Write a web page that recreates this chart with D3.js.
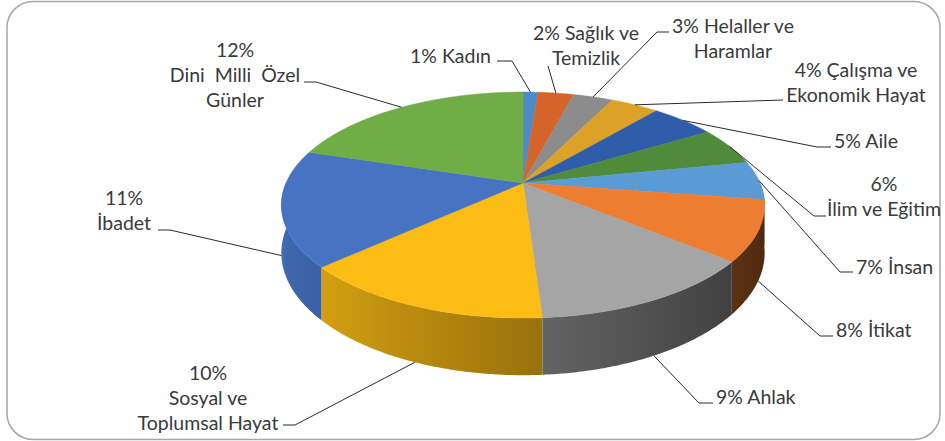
<!DOCTYPE html>
<html>
<head>
<meta charset="utf-8">
<script src="https://cdn.jsdelivr.net/npm/d3@7"></script>
<style>
  body { margin: 0; background: #fff; }
  text { font-family: Lato, "Open Sans", sans-serif; font-size: 19.5px; fill: #3a3a3a; white-space: pre; }
</style>
</head>
<body>
<div id="chart"></div>
<script>
// konu dağılımı - 3d pasta
var categories = ["Kadın", "Sağlık ve Temizlik", "Helaller ve Haramlar", "Çalışma ve Ekonomik Hayat",
  "Aile", "İlim ve Eğitim", "İnsan", "İtikat", "Ahlak", "Sosyal ve Toplumsal Hayat", "İbadet", "Dini Milli Özel Günler"];
var values = [1.2, 2.9, 3.2, 3.9, 5.2, 5.5, 5.5, 8.6, 13.0, 14.3, 16.6, 20.2];
var labelLines = [
  ["1% Kadın"],
  ["2% Sağlık ve", "Temizlik"],
  ["3% Helaller ve", "Haramlar"],
  ["4% Çalışma ve", "Ekonomik Hayat"],
  ["5% Aile"],
  ["6%", "İlim ve Eğitim"],
  ["7% İnsan"],
  ["8% İtikat"],
  ["9% Ahlak"],
  ["10%", "Sosyal ve", "Toplumsal Hayat"],
  ["11%", "İbadet"],
  ["12%", "Dini  Milli  Özel", "Günler"]
];
var colors = ["#4e8ac8", "#d4642a", "#8c8c8c", "#dca228", "#2f5daa", "#4f8b3b",
  "#5b9bd5", "#ed7d31", "#a5a5a5", "#fbbd14", "#4673c2", "#70ad47"];

// label placement (x, y of first line, anchor, leader knee points)
var labelPos = [
  {x: 491, y: 56, a: "end", knee: [[497, 61], [512, 61]]},
  {x: 586, y: 33, a: "middle", knee: [[548, 66]]},
  {x: 733, y: 26, a: "middle", knee: [[669, 32], [657, 32]]},
  {x: 856, y: 70, a: "middle", knee: [[783, 100]]},
  {x: 834, y: 141, a: "start", knee: [[831, 147], [817, 147]]},
  {x: 884, y: 184, a: "middle", knee: [[826, 216], [814, 216]]},
  {x: 856, y: 267, a: "start", knee: [[853, 272], [840, 272]]},
  {x: 836, y: 330, a: "start", knee: [[833, 336], [820, 336]]},
  {x: 716, y: 397, a: "start", knee: [[713, 403], [699, 403]]},
  {x: 208, y: 373, a: "middle", knee: [[283, 425], [295, 425]]},
  {x: 124, y: 198, a: "middle", knee: [[158, 230], [170, 230]]},
  {x: 235, y: 50, a: "middle", knee: [[304, 82], [316, 82]]}
];

var w = 945, h = 441;
var cx = 523, cy = 183, Rx = 237, Ry = 108.7, P = 0.195, D = 46;

function proj(t, down) {
  var u = Math.sin(t), v = Math.cos(t), k = 1 + P * v;
  return [cx + Rx * u / k, cy - Ry * v / k + (down || 0) / k];
}
function shade(c, t) {
  var f = 0.62 - 0.3 * Math.sin(t);
  var r = d3.rgb(c);
  return d3.rgb(r.r * f, r.g * f, r.b * f).toString();
}

var svg = d3.select("#chart").append("svg")
  .attr("width", w).attr("height", h);

svg.append("rect")
  .attr("x", 7).attr("y", 1.5).attr("width", 933).attr("height", 438)
  .attr("rx", 26).attr("ry", 26)
  .style("fill", "#fff").style("stroke", "#a6a6a6").style("stroke-width", 1.5);

var arcs = d3.pie().sort(null).value(function(d) { return d; })(values);
var defs = svg.append("defs");
var step = Math.PI / 360;

// side walls
arcs.forEach(function(d, i) {
  var lo = Math.max(d.startAngle, Math.PI / 2), hi = Math.min(d.endAngle, Math.PI * 1.5);
  if (hi <= lo) return;
  var top = [], bot = [];
  for (var t = lo; t < hi; t += step) { top.push(proj(t)); bot.push(proj(t, D)); }
  top.push(proj(hi)); bot.push(proj(hi, D));
  var pts = top.concat(bot.reverse());

  var x1 = proj(lo)[0], x2 = proj(hi)[0];
  var g = defs.append("linearGradient").attr("id", "side" + i)
    .attr("gradientUnits", "userSpaceOnUse")
    .attr("x1", x1).attr("x2", x2).attr("y1", 0).attr("y2", 0);
  var last = 0;
  for (var j = 0; j <= 8; j++) {
    var tt = lo + (hi - lo) * j / 8;
    var off = x1 === x2 ? j / 8 : (x1 - proj(tt)[0]) / (x1 - x2);
    off = Math.max(last, Math.min(1, off)); last = off;
    g.append("stop").attr("offset", off).attr("stop-color", shade(colors[i], tt));
  }
  svg.append("path")
    .attr("d", d3.line()(pts) + "Z")
    .style("fill", "url(#side" + i + ")");
});

// top faces
svg.selectAll("path.top")
  .data(arcs)
  .enter()
  .append("path")
  .attr("class", "top")
  .attr("d", function(d) {
    var pts = [[cx, cy]];
    for (var t = d.startAngle; t < d.endAngle; t += step) pts.push(proj(t));
    pts.push(proj(d.endAngle));
    return d3.line()(pts) + "Z";
  })
  .style("fill", function(d, i) { return colors[i]; })
  .style("stroke", function(d, i) { return colors[i]; })
  .style("stroke-width", 0.5);

// leader lines
arcs.forEach(function(d, i) {
  var m = (d.startAngle + d.endAngle) / 2;
  var anchor = proj(m, Math.cos(m) < 0 ? D : 0);
  var pts = labelPos[i].knee.concat([anchor]);
  svg.append("path")
    .attr("d", d3.line()(pts))
    .style("fill", "none").style("stroke", "#2b2b2b").style("stroke-width", 1);
});

// labels
labelLines.forEach(function(lines, i) {
  var p = labelPos[i];
  var t = svg.append("text").attr("text-anchor", p.a);
  lines.forEach(function(s, k) {
    t.append("tspan").attr("x", p.x).attr("y", p.y + k * 25).attr("dy", "0.35em").text(s);
  });
});
</script>
</body>
</html>
